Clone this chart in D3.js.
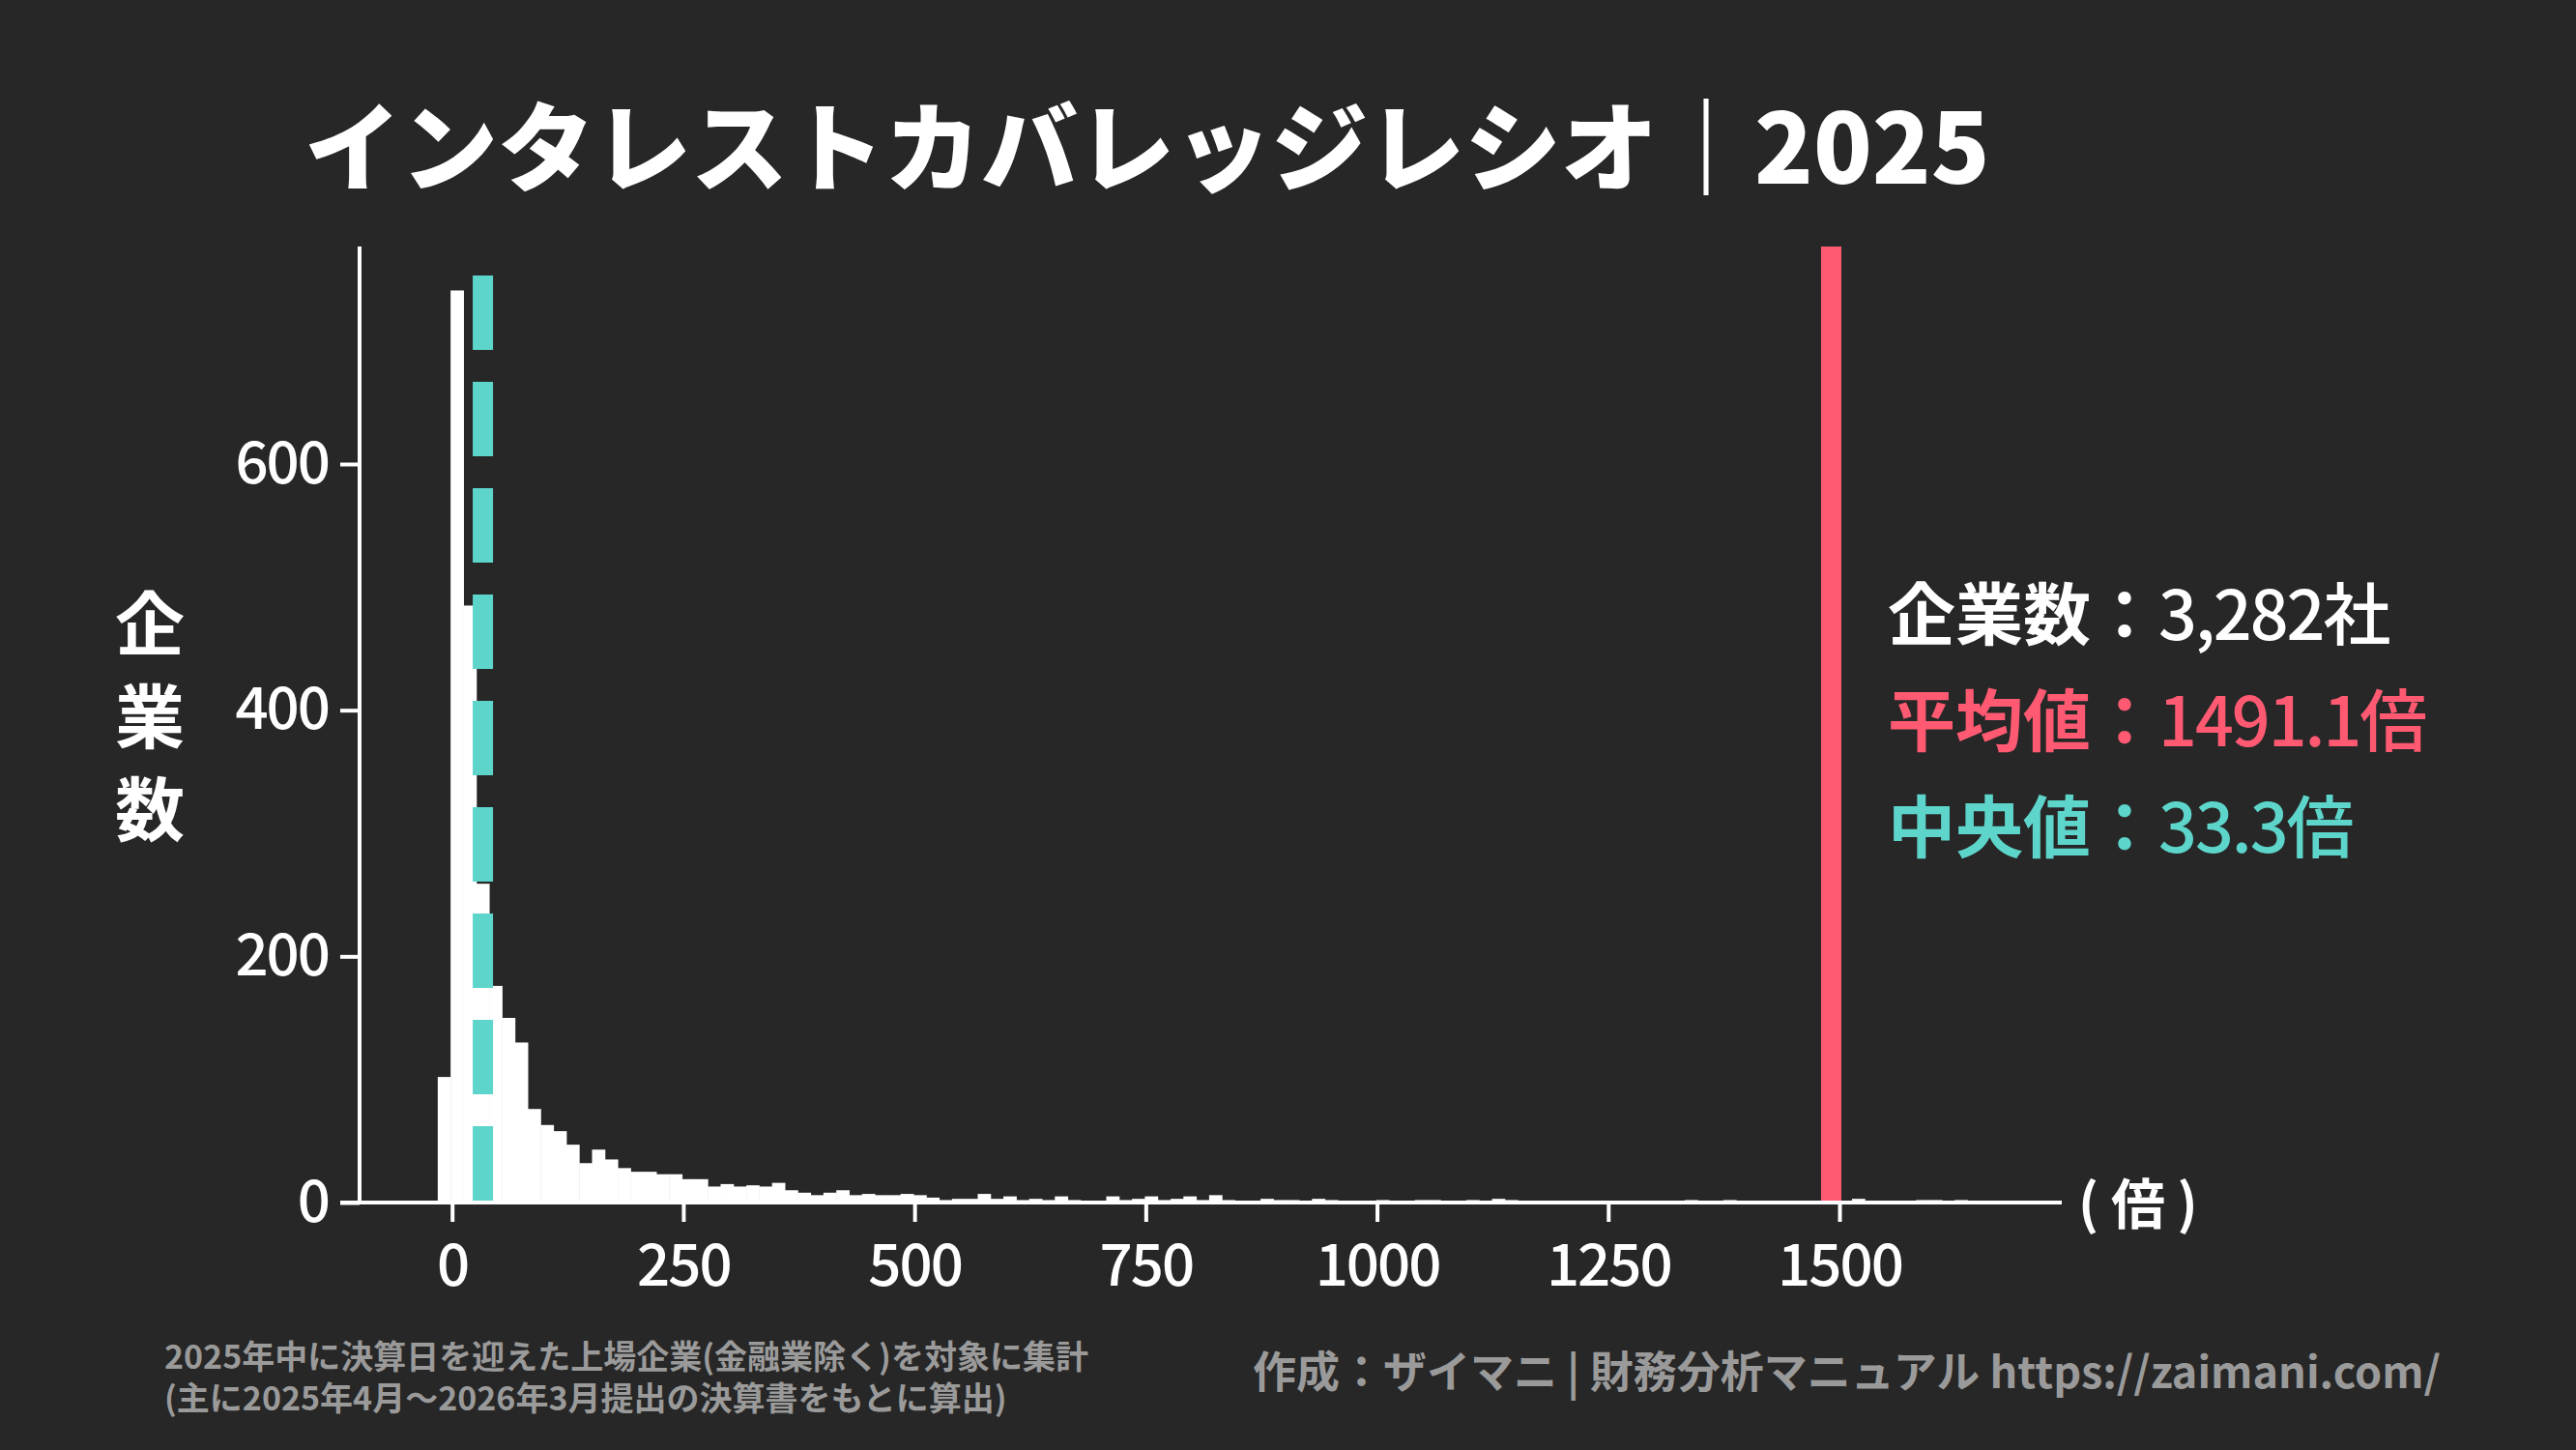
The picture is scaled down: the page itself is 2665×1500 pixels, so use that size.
<!DOCTYPE html><html><head><meta charset="utf-8"><script src="https://cdn.jsdelivr.net/npm/d3@7"></script>
<style>body{margin:0;background:#272727}svg{display:block}text{font-family:"Noto Sans CJK JP","Noto Sans",sans-serif}</style></head><body>
<script>
const binStart=-15.5, binWidth=13.9;
const counts=[102,741,485,259,176,150,130,76,63,58,47,32,43,35,28,25,25,23,23,19,19,13,15,13,14,13,16,10,8,6,8,10,6,7,6,6,7,6,4,2,3,3,7,3,
5,2,3,2,5,2,1,1,5,2,3,5,2,3,5,2,6,2,1,1,3,2,2,1,3,2,1,1,1,2,1,1,2,2,1,1,2,1,3,2,1,1,1,0,1,1,0,1,0,0,0,0,0,2,0,0,2,1,0,1,0,1,0,1,0,0,3,0,0,0,0,2,2,0,2,0,1];
const xTicks=[0,250,500,750,1000,1250,1500];
const yTicks=[0,200,400,600];
const meanVal=1491.1, medianVal=33.3, nCompanies="3,282";
const W=2665,H=1500;
const svg=d3.select("body").append("svg").attr("width",W).attr("height",H);
svg.append("rect").attr("width",W).attr("height",H).attr("fill","#272727");
const x=d3.scaleLinear().domain([0,1500]).range([467.7,1903]);
const y=d3.scaleLinear().domain([0,600]).range([1244,480]);
const g=svg.append("g");
g.selectAll("rect.b").data(counts).join("rect").attr("fill","#fff")
 .attr("x",(d,i)=>x(binStart+i*binWidth)).attr("width",x(binWidth)-x(0)+0.5)
 .attr("y",d=>y(d)).attr("height",d=>y(0)-y(d));
g.append("line").attr("x1",x(medianVal)).attr("x2",x(medianVal)).attr("y1",285).attr("y2",y(0))
 .attr("stroke","#5dd5cb").attr("stroke-width",21).attr("stroke-dasharray","77 33");
g.append("line").attr("x1",x(meanVal)).attr("x2",x(meanVal)).attr("y1",255).attr("y2",y(0))
 .attr("stroke","#ff5a72").attr("stroke-width",21);
const xa=svg.append("g").attr("transform",`translate(0,${y(0)})`).call(d3.axisBottom(x).tickValues(xTicks).tickFormat(d3.format("d")).tickSize(20).tickPadding(12));
xa.select(".domain").remove();
xa.append("line").attr("x1",352).attr("x2",2133).attr("stroke","#fff").attr("stroke-width",4);
const ya=svg.append("g").attr("transform",`translate(372,0)`).call(d3.axisLeft(y).tickValues(yTicks).tickFormat(d3.format("d")).tickSize(20).tickPadding(12));
ya.select(".domain").remove();
ya.append("line").attr("y1",255).attr("y2",y(0)).attr("stroke","#fff").attr("stroke-width",4);
svg.selectAll(".tick line").attr("stroke","#fff").attr("stroke-width",4);
svg.selectAll(".tick text").attr("fill","#fff").attr("font-size",60).attr("font-weight",500).attr("letter-spacing",-2);
xa.selectAll(".tick text").attr("dy","0.9em");
svg.append("text").attr("x",2150).attr("y",1266).attr("fill","#fff").attr("font-size",56).attr("font-weight",700).text("( 倍 )");
["企","業","数"].forEach((c,i)=>svg.append("text").attr("x",155).attr("y",672+i*96).attr("text-anchor","middle").attr("fill","#fff").attr("font-size",72).attr("font-weight",700).text(c));
svg.append("text").attr("x",315).attr("y",190).attr("fill","#fff").attr("font-size",100).attr("font-weight",900).text("インタレストカバレッジレシオ｜2025");
const st=[["企業数：",nCompanies+"社","#fff"],["平均値：",meanVal.toFixed(1)+"倍","#ff5a72"],["中央値：",medianVal.toFixed(1)+"倍","#5dd5cb"]];
st.forEach((s,i)=>{const t=svg.append("text").attr("x",1953).attr("y",662+i*110).attr("fill",s[2]).attr("font-size",70);
 t.append("tspan").attr("font-weight",700).text(s[0]);t.append("tspan").attr("font-weight",500).attr("letter-spacing",-2).text(s[1]);});
svg.append("text").attr("x",170).attr("y",1416).attr("fill","#9a9a9a").attr("font-size",34).attr("font-weight",700).text("2025年中に決算日を迎えた上場企業(金融業除く)を対象に集計");
svg.append("text").attr("x",170).attr("y",1459).attr("fill","#9a9a9a").attr("font-size",34).attr("font-weight",700).text("(主に2025年4月〜2026年3月提出の決算書をもとに算出)");
svg.append("text").attr("x",2525).attr("y",1436).attr("text-anchor","end").attr("fill","#9a9a9a").attr("font-size",45).attr("font-weight",700).text("作成：ザイマニ | 財務分析マニュアル https://zaimani.com/");
</script></body></html>
